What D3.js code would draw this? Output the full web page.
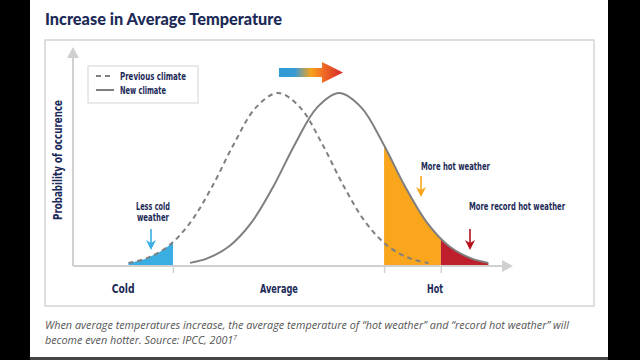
<!DOCTYPE html>
<html><head><meta charset="utf-8">
<script src="https://cdn.jsdelivr.net/npm/d3@7"></script>
<style>
html,body{margin:0;padding:0;background:#000;}
svg{display:block;}
.nar{font-family:'DejaVu Sans Condensed','Liberation Sans Narrow',sans-serif;font-stretch:condensed;font-weight:bold;fill:#1c2a58;}
</style></head>
<body>
<svg id="c" width="640" height="360"></svg>
<script>
// ---- data ----
const title = "Increase in Average Temperature";
const prevX = [12.6, 16.6, 21.6, 26.6, 31.6, 36.6, 41.6, 46.6, 51.6, 56.6, 61.6, 66.6, 71.6, 76.6, 80.8];
const prevY = [0.018, 0.044, 0.114, 0.249, 0.458, 0.707, 0.917, 1.0, 0.917, 0.707, 0.458, 0.249, 0.114, 0.044, 0.017];
const newX = [26.6, 30.5, 35.5, 40.5, 45.5, 50.5, 55.5, 60.5, 65.5, 70.5, 75.5, 80.5, 85.5, 90.5, 94.4];
const newY = [0.018, 0.044, 0.114, 0.249, 0.458, 0.707, 0.917, 1.0, 0.917, 0.707, 0.458, 0.249, 0.114, 0.044, 0.018];
const thresholds = [22.7, 70.7, 83.6];
const categories = ["Cold", "Average", "Hot"];
const categoryPos = [11.4, 46.8, 82.3];
const regionFrom = [0, 70.7, 83.6];
const regionTo = [22.7, 83.6, 100];
const regionSeries = ["prev", "new", "new"];
const regionColors = ["#3aaee2", "#f9a61c", "#bf1e2d"];
const legendLabels = ["Previous climate", "New climate"];
const annoText = [["Less cold", "weather"], ["More hot weather"], ["More record hot weather"]];
const caption = ["When average temperatures increase, the average temperature of \u201chot weather\u201d and \u201crecord hot weather\u201d will",
                 "become even hotter. Source: IPCC, 2001"];

const svg = d3.select("#c");
// panel
svg.append("rect").attr("x", 30).attr("y", 0).attr("width", 578).attr("height", 357).attr("fill", "#fff");
svg.append("rect").attr("x", 30).attr("y", 357).attr("width", 578).attr("height", 3).attr("fill", "#444");

svg.append("text").attr("x", 45).attr("y", 25).text(title)
  .attr("font-family", "Lato, 'Open Sans', sans-serif").attr("font-weight", 900)
  .attr("font-size", 16.3).attr("fill", "#1c2a58");

svg.append("rect").attr("x", 45).attr("y", 40).attr("width", 549).attr("height", 266)
  .attr("fill", "none").attr("stroke", "#d4d4d4").attr("stroke-width", 1.5);

const x = d3.scaleLinear().domain([0, 100]).range([73, 513]);
const y = d3.scaleLinear().domain([0, 1]).range([266, 93]);

const prev = prevX.map((v, i) => [v, prevY[i]]);
const neu = newX.map((v, i) => [v, newY[i]]);
const series = {prev: prev, new: neu};

const area = d3.area().x(d => x(d[0])).y0(y(0)).y1(d => y(d[1])).curve(d3.curveCatmullRom);
const line = d3.line().x(d => x(d[0])).y(d => y(d[1])).curve(d3.curveCatmullRom);

const defs = svg.append("defs");
regionFrom.forEach((f, i) => {
  defs.append("clipPath").attr("id", "clip" + i).append("rect")
    .attr("x", x(f)).attr("y", 0).attr("width", x(regionTo[i]) - x(f)).attr("height", y(0));
  svg.append("path").datum(series[regionSeries[i]]).attr("d", area)
    .attr("fill", regionColors[i]).attr("clip-path", "url(#clip" + i + ")");
});

// axes
const axisCol = "#d0d0d0";
const xa = svg.append("g").attr("transform", `translate(0,${y(0)})`)
  .call(d3.axisBottom(x).tickValues(thresholds).tickSize(7).tickFormat(""));
xa.select(".domain").remove();
xa.selectAll("line").attr("stroke", axisCol).attr("stroke-width", 1.5);
svg.append("line").attr("x1", x(0)).attr("x2", x(100) - 4).attr("y1", y(0)).attr("y2", y(0))
  .attr("stroke", axisCol).attr("stroke-width", 2);
svg.append("path").attr("d", `M${x(100)},${y(0)} L${x(100) - 11},${y(0) - 6} L${x(100) - 11},${y(0) + 6} Z`).attr("fill", axisCol);
const yTop = y(1.266);
svg.append("line").attr("x1", x(0)).attr("x2", x(0)).attr("y1", y(0)).attr("y2", yTop + 4)
  .attr("stroke", axisCol).attr("stroke-width", 2);
svg.append("path").attr("d", `M${x(0)},${yTop} L${x(0) - 6},${yTop + 11} L${x(0) + 6},${yTop + 11} Z`).attr("fill", axisCol);

// curves
svg.append("path").datum(prev).attr("d", line).attr("fill", "none")
  .attr("stroke", "#7f7f7f").attr("stroke-width", 2).attr("stroke-dasharray", "5,4");
svg.append("path").datum(neu).attr("d", line).attr("fill", "none")
  .attr("stroke", "#7f7f7f").attr("stroke-width", 2);

function nar(px, py, str, size, len, anchor) {
  return svg.append("text").attr("class", "nar").attr("x", px).attr("y", py)
    .attr("text-anchor", anchor || "start").attr("font-size", size)
    .attr("textLength", len).attr("lengthAdjust", "spacingAndGlyphs").text(str);
}

// category labels
const catLen = [23, 38, 16];
categories.forEach((c, i) => nar(x(categoryPos[i]), 293, c, 12.5, catLen[i], "middle"));

// y label
svg.append("text").attr("class", "nar").attr("transform", "translate(62,160) rotate(-90)")
  .attr("text-anchor", "middle").attr("font-size", 11.5)
  .attr("textLength", 120).attr("lengthAdjust", "spacingAndGlyphs").text("Probability of occurence");

// legend
svg.append("rect").attr("x", 88).attr("y", 66).attr("width", 110).attr("height", 37)
  .attr("fill", "#fff").attr("stroke", "#d4d4d4").attr("stroke-width", 1);
const legLen = [66, 46];
[["5,4", 76], [null, 90]].forEach((l, i) => {
  svg.append("line").attr("x1", 96).attr("x2", 114).attr("y1", l[1]).attr("y2", l[1])
    .attr("stroke", "#7f7f7f").attr("stroke-width", 2).attr("stroke-dasharray", l[0] || null);
  nar(120, l[1] + 4, legendLabels[i], 10.5, legLen[i]);
});

// gradient arrow
const g = defs.append("linearGradient").attr("id", "grad").attr("x1", 279).attr("x2", 343)
  .attr("y1", 0).attr("y2", 0).attr("gradientUnits", "userSpaceOnUse");
[[0, "#2d9ad6"], [0.25, "#3a9bd3"], [0.5, "#f7a21c"], [0.7, "#f06a24"], [1, "#d4262b"]].forEach(s =>
  g.append("stop").attr("offset", s[0]).attr("stop-color", s[1]));
svg.append("path").attr("d", "M279,68 L322,68 L322,62 L343,72.5 L322,83 L322,77 L279,77 Z").attr("fill", "url(#grad)");

// annotations
function downArrow(px, top, tip, col) {
  svg.append("line").attr("x1", px).attr("x2", px).attr("y1", top).attr("y2", tip - 6)
    .attr("stroke", col).attr("stroke-width", 1.6);
  svg.append("path").attr("d", `M${px - 5},${tip - 10} L${px},${tip} L${px + 5},${tip - 10} L${px},${tip - 7} Z`).attr("fill", col);
}
nar(153, 210, annoText[0][0], 10.5, 34, "middle");
nar(153, 221, annoText[0][1], 10.5, 32, "middle");
downArrow(151, 229, 250, regionColors[0]);
nar(421, 170, annoText[1][0], 10.5, 69);
downArrow(421, 176, 197, regionColors[1]);
nar(469, 210, annoText[2][0], 10.5, 96);
downArrow(470, 229, 250, "#b5121b");

// caption
svg.append("text").attr("x", 45).attr("y", 329).attr("font-family", "'Open Sans', sans-serif")
  .attr("font-style", "italic").attr("font-size", 10.8).attr("fill", "#555")
  .attr("textLength", 524).attr("lengthAdjust", "spacing").text(caption[0]);
const c2 = svg.append("text").attr("x", 45).attr("y", 344).attr("font-family", "'Open Sans', sans-serif")
  .attr("font-style", "italic").attr("font-size", 10.8).attr("fill", "#555").text(caption[1]);
c2.append("tspan").attr("dy", -4).attr("font-size", 6.5).text("7");
</script>
</body></html>
